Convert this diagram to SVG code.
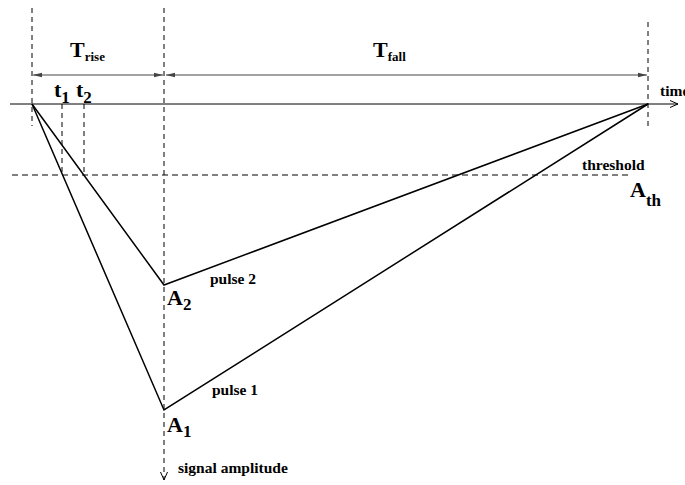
<svg xmlns="http://www.w3.org/2000/svg" width="685" height="485" viewBox="0 0 685 485">
<style>
.dash{stroke:#000;stroke-width:1;stroke-dasharray:5,4;fill:none}
.hdash{stroke:#000;stroke-width:1;stroke-dasharray:6,4;fill:none}
.ln{stroke:#000;stroke-width:1.5;fill:none}
.thin{stroke:#000;stroke-width:1;fill:none}
.dim{stroke:#444;stroke-width:1;fill:none}
text{font-family:"Liberation Serif","Times New Roman",serif;font-weight:bold;fill:#000}
.big{font-size:22px}
.sm{font-size:15.5px}
</style>
<defs>
<marker id="fa" markerWidth="10" markerHeight="6" refX="9" refY="3" orient="auto" markerUnits="userSpaceOnUse">
<path d="M0,0.8 L9,3 L0,5.2 Z" fill="#444"/>
</marker>
<marker id="va" markerWidth="10" markerHeight="10" refX="8" refY="4" orient="auto" markerUnits="userSpaceOnUse">
<path d="M0,0.5 L8,4 L0,7.5" fill="none" stroke="#000" stroke-width="1"/>
</marker>
</defs>
<rect width="685" height="485" fill="#fff"/>
<g id="guides">
<line class="dash" x1="32" y1="8" x2="32" y2="126"/>
<line class="dash" x1="648" y1="22" x2="648" y2="126"/>
<line class="dash" x1="164" y1="8" x2="164" y2="480" marker-end="url(#va)"/>
<line class="hdash" x1="12" y1="175" x2="632" y2="175"/>
<line class="dash" x1="62" y1="104" x2="62" y2="175"/>
<line class="dash" x1="84" y1="104" x2="84" y2="175"/>
</g>
<g id="axes">
<line class="thin" x1="10" y1="104" x2="678" y2="104" marker-end="url(#va)"/>
</g>
<g id="dimensions">
<line class="dim" x1="98" y1="75" x2="33" y2="75" marker-end="url(#fa)"/>
<line class="dim" x1="98" y1="75" x2="163" y2="75" marker-end="url(#fa)"/>
<line class="dim" x1="400" y1="75" x2="166" y2="75" marker-end="url(#fa)"/>
<line class="dim" x1="400" y1="75" x2="647" y2="75" marker-end="url(#fa)"/>
</g>
<g id="pulses">
<polyline id="pulse2" class="ln" points="32,104 164,285 648,104"/>
<polyline id="pulse1" class="ln" points="32,104 164,410 648,104"/>
</g>
<g id="labels">
<text class="big" x="70" y="57" font-size="21">T<tspan font-size="13" dy="4">rise</tspan></text>
<text class="big" x="373" y="57" font-size="21">T<tspan font-size="13" dy="4">fall</tspan></text>
<text class="big" x="54" y="97" font-size="23">t<tspan font-size="17" dy="6">1</tspan></text>
<text class="big" x="76" y="97" font-size="23">t<tspan font-size="17" dy="6">2</tspan></text>
<text class="sm" x="660" y="96">time</text>
<text class="sm" x="582" y="170">threshold</text>
<text class="big" x="630" y="197">A<tspan font-size="17" dy="9">th</tspan></text>
<text class="sm" x="210" y="284">pulse 2</text>
<text class="big" x="167" y="305">A<tspan font-size="17" dy="5">2</tspan></text>
<text class="sm" x="212" y="395">pulse 1</text>
<text class="big" x="167" y="432">A<tspan font-size="17" dy="5">1</tspan></text>
<text class="sm" x="178" y="473">signal amplitude</text>
</g>
</svg>
